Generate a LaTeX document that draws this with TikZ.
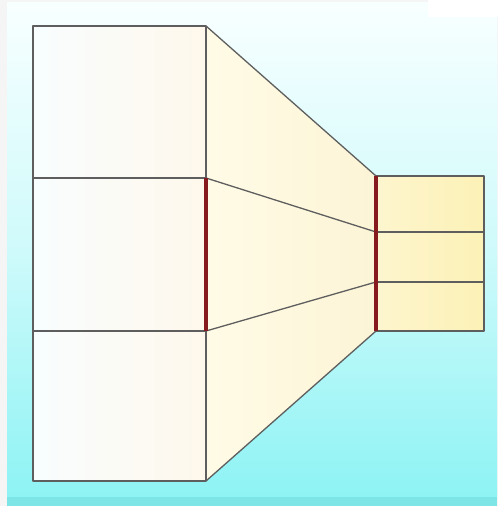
\documentclass[tikz,border=0pt]{standalone}
\usetikzlibrary{calc}
\definecolor{bgtop}{HTML}{F8FFFF}
\definecolor{bgmid}{HTML}{CFFAFB}
\definecolor{bgbot}{HTML}{8EF3F4}
\definecolor{edgeline}{HTML}{5E5E5E}
\definecolor{redbar}{HTML}{861A1E}
\definecolor{boxL}{HTML}{F8FDFE}
\definecolor{boxR}{HTML}{FEF8EC}
\definecolor{trapL}{HTML}{FFFBE6}
\definecolor{trapR}{HTML}{FCF4D6}
\definecolor{smallL}{HTML}{FDF5CE}
\definecolor{smallR}{HTML}{FCF1B6}
\tikzset{
  outline/.style={draw=edgeline, line width=0.65pt, line join=round},
  bar/.style={draw=redbar, line width=2.2pt},
}
\begin{document}
\begin{tikzpicture}[x=0.5pt,y=-0.5pt]
\useasboundingbox (0,0) rectangle (498,506);
% outer margin
\fill[gray!8] (0,0) rectangle (498,506);
% panel background
\shade[top color=bgtop, bottom color=bgmid] (7,3) rectangle (497,250);
\shade[top color=bgmid, bottom color=bgbot] (7,249.5) rectangle (497,497);
\fill[bgbot!88!teal] (7,497) rectangle (497,506);
\fill[white] (428,0) rectangle (498,17);
% coordinates
\coordinate (A1) at (33,26);
\coordinate (A2) at (206,26);
\coordinate (B1) at (33,178);
\coordinate (B2) at (206,178);
\coordinate (C1) at (33,331);
\coordinate (C2) at (206,331);
\coordinate (D1) at (33,481);
\coordinate (D2) at (206,481);
\coordinate (P1) at (376,176);
\coordinate (P2) at (376,232);
\coordinate (P3) at (376,282);
\coordinate (P4) at (376,331);
\coordinate (Q1) at (484,176);
\coordinate (Q2) at (484,232);
\coordinate (Q3) at (484,282);
\coordinate (Q4) at (484,331);
% trapezoid
\shade[left color=trapL, right color=trapR] (A2) -- (P1) -- (P4) -- (D2) -- cycle;
\draw[outline] (A2) -- (P1);
\draw[outline] (D2) -- (P4);
\draw[outline] (B2) -- (P2);
\draw[outline] (C2) -- (P3);
% left boxes
\shade[left color=boxL, right color=boxR] (A1) rectangle (D2);
\draw[outline] (A1) rectangle (D2);
\draw[outline] (B1) -- (B2);
\draw[outline] (C1) -- (C2);
% small boxes
\shade[left color=smallL, right color=smallR] (P1) rectangle (Q4);
\draw[outline] (P1) rectangle (Q4);
\draw[outline] (P2) -- (Q2);
\draw[outline] (P3) -- (Q3);
% red bars
\draw[bar] (B2) -- (C2);
\draw[bar] (P1) -- (P4);
\end{tikzpicture}
\end{document}
